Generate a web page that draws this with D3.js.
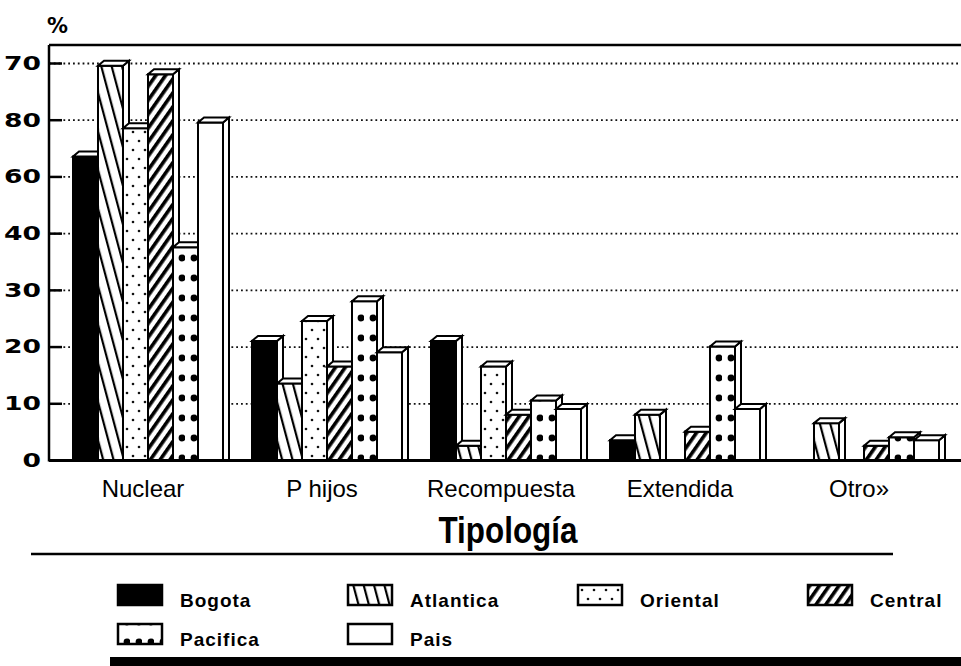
<!DOCTYPE html>
<html>
<head>
<meta charset="utf-8">
<script src="https://cdn.jsdelivr.net/npm/d3@7/dist/d3.min.js"></script>
<style>
  html, body { margin: 0; padding: 0; background: #fff; }
  svg { display: block; }
</style>
</head>
<body>
<svg id="chart" width="961" height="666"></svg>
<script>
// Household typology by region (%)
const categories = ["Nuclear", "P hijos", "Recompuesta", "Extendida", "Otro»"];
const regions = ["Bogota", "Atlantica", "Oriental", "Central", "Pacifica", "Pais"];

const bogota    = [53.5, 21.0, 21.0, 3.5, 0.0];
const atlantica = [69.5, 13.5,  2.5, 8.0, 6.5];
const oriental  = [58.5, 24.5, 16.5, 0.0, 0.0];
const central   = [68.0, 16.5,  8.0, 5.0, 2.5];
const pacifica  = [37.5, 28.0, 10.5, 20.0, 4.0];
const pais      = [59.5, 19.0,  9.0, 9.0, 3.5];

const tickValues = [0, 10, 20, 30, 40, 50, 60, 70];
const tickLabels = ["0", "10", "20", "30", "40", "60", "80", "70"];

const yUnit = "%";
const xTitle = "Tipología";

const seriesValues = [bogota, atlantica, oriental, central, pacifica, pais];

const svg = d3.select("#chart");
const W = 961;

// plot frame
const plotLeft = 49, plotTop = 45, plotRight = 961;
const x0 = d3.scaleBand().domain(categories).range([58.5, 953.5])
  .paddingInner(0.162).paddingOuter(0.081);
const x1 = d3.scaleBand().domain(regions).range([0, x0.bandwidth()]).padding(0);
const y = d3.scaleLinear().domain([0, 70]).range([460, 63]);
const base = y(0);

// fill patterns
const defs = svg.append("defs");

const pAtl = defs.append("pattern").attr("id", "p-atlantica")
  .attr("patternUnits", "userSpaceOnUse").attr("width", 10).attr("height", 10)
  .attr("patternTransform", "rotate(-15)");
pAtl.append("rect").attr("width", 10).attr("height", 10).attr("fill", "#fff");
pAtl.append("rect").attr("x", 4).attr("width", 2.2).attr("height", 10).attr("fill", "#000");

const pOri = defs.append("pattern").attr("id", "p-oriental")
  .attr("patternUnits", "userSpaceOnUse").attr("width", 12).attr("height", 18);
pOri.append("rect").attr("width", 12).attr("height", 18).attr("fill", "#fff");
pOri.append("circle").attr("cx", 4).attr("cy", 5).attr("r", 1.3).attr("fill", "#111");
pOri.append("circle").attr("cx", 10).attr("cy", 14).attr("r", 1.3).attr("fill", "#111");

const pCen = defs.append("pattern").attr("id", "p-central")
  .attr("patternUnits", "userSpaceOnUse").attr("width", 8).attr("height", 8)
  .attr("patternTransform", "rotate(35)");
pCen.append("rect").attr("width", 8).attr("height", 8).attr("fill", "#fff");
pCen.append("rect").attr("x", 0).attr("width", 3.6).attr("height", 8).attr("fill", "#000");

const pPac = defs.append("pattern").attr("id", "p-pacifica")
  .attr("patternUnits", "userSpaceOnUse").attr("width", 12).attr("height", 20)
  .attr("patternTransform", "translate(0,8)");
pPac.append("rect").attr("width", 12).attr("height", 20).attr("fill", "#fff");
pPac.append("circle").attr("cx", 9).attr("cy", 10).attr("r", 3.4).attr("fill", "#000");

const fills = ["#000", "url(#p-atlantica)", "url(#p-oriental)", "url(#p-central)", "url(#p-pacifica)", "#fff"];

// dotted gridlines
svg.append("g")
  .attr("transform", `translate(${plotLeft},0)`)
  .call(d3.axisLeft(y).tickValues(tickValues.filter(d => d > 0))
    .tickSize(-(plotRight - plotLeft)).tickFormat(""))
  .call(g => g.select(".domain").remove())
  .call(g => g.selectAll("line")
    .attr("stroke", "#111").attr("stroke-width", 1.8)
    .attr("stroke-dasharray", "1.8 3"));

// y axis ticks and labels
svg.append("g")
  .attr("transform", `translate(${plotLeft},0)`)
  .call(d3.axisLeft(y).tickValues(tickValues)
    .tickFormat((d, i) => tickLabels[i])
    .tickSizeInner(-13).tickSizeOuter(0).tickPadding(8))
  .call(g => g.select(".domain").remove())
  .call(g => g.selectAll("line").attr("stroke", "#000").attr("stroke-width", 2.5))
  .call(g => g.selectAll("text")
    .attr("font-family", "DejaVu Sans")
    .attr("font-weight", "bold")
    .attr("font-size", 20)
    .attr("fill", "#000")
    .attr("lengthAdjust", "spacingAndGlyphs")
    .attr("textLength", function() { return this.textContent.length * 18.5; }));

// frame lines
svg.append("line").attr("x1", plotLeft).attr("x2", plotRight).attr("y1", plotTop).attr("y2", plotTop)
  .attr("stroke", "#000").attr("stroke-width", 2.5);
svg.append("line").attr("x1", plotLeft).attr("x2", plotLeft).attr("y1", plotTop).attr("y2", base + 1.5)
  .attr("stroke", "#000").attr("stroke-width", 2.5);

// unit label
svg.append("text").attr("x", 47).attr("y", 33)
  .attr("font-family", "DejaVu Sans").attr("font-weight", "bold").attr("font-size", 22)
  .attr("textLength", 21).attr("lengthAdjust", "spacingAndGlyphs")
  .attr("fill", "#000").text(yUnit);

// 3D bars
const dx = 6, dy = 5;
const w = x1.bandwidth();
categories.forEach((cat, ci) => {
  regions.forEach((reg, ri) => {
    const v = seriesValues[ri][ci];
    if (!(v > 0)) return;
    const h = base - y(v);
    const g = svg.append("g")
      .attr("transform", `translate(${x0(cat) + x1(reg)},${base})`)
      .attr("stroke", "#000").attr("stroke-width", 2).attr("stroke-linejoin", "miter");
    g.append("rect").attr("x", 0).attr("y", -h).attr("width", w).attr("height", h)
      .attr("fill", fills[ri]);
    g.append("polygon")
      .attr("points", [[w, -h], [w + dx, -h - dy], [w + dx, 0], [w, 0]].join(" "))
      .attr("fill", "#fff");
    g.append("polygon")
      .attr("points", [[0, -h], [dx, -h - dy], [w + dx, -h - dy], [w, -h]].join(" "))
      .attr("fill", "#fff");
  });
});

// baseline
svg.append("line").attr("x1", plotLeft).attr("x2", plotRight).attr("y1", base + 0.5).attr("y2", base + 0.5)
  .attr("stroke", "#000").attr("stroke-width", 3);

// category labels
svg.append("g")
  .attr("transform", `translate(0,${base})`)
  .call(d3.axisBottom(x0).tickSize(0).tickPadding(20))
  .call(g => g.select(".domain").remove())
  .call(g => g.selectAll("text")
    .attr("font-family", "Liberation Sans, Arial, sans-serif")
    .attr("font-size", 24)
    .attr("fill", "#000")
    .attr("dx", -5));

// x title and rule
svg.append("text").attr("x", 508).attr("y", 543)
  .attr("text-anchor", "middle")
  .attr("font-family", "Liberation Sans, Arial, sans-serif")
  .attr("font-weight", "bold").attr("font-size", 36)
  .attr("textLength", 139).attr("lengthAdjust", "spacingAndGlyphs")
  .attr("fill", "#000").text(xTitle);
svg.append("line").attr("x1", 31).attr("x2", 893).attr("y1", 554).attr("y2", 554)
  .attr("stroke", "#000").attr("stroke-width", 2.5);

// legend
const legend = svg.append("g");
const colX = [118, 348, 578, 808];
regions.forEach((reg, i) => {
  const lx = colX[i % 4], ly = 585 + Math.floor(i / 4) * 39;
  const item = legend.append("g").attr("transform", `translate(${lx},${ly})`);
  item.append("rect").attr("x", 0).attr("y", 0).attr("width", 44).attr("height", 20)
    .attr("fill", fills[i]).attr("stroke", "#000").attr("stroke-width", 2.5);
  item.append("text").attr("x", 62).attr("y", 22)
    .attr("font-family", "Liberation Sans, Arial, sans-serif")
    .attr("font-weight", "bold").attr("font-size", 19)
    .attr("letter-spacing", 1)
    .attr("fill", "#000").text(reg);
});

// bottom bar
svg.append("rect").attr("x", 110).attr("y", 657).attr("width", W - 110).attr("height", 9)
  .attr("fill", "#000");
</script>
</body>
</html>
